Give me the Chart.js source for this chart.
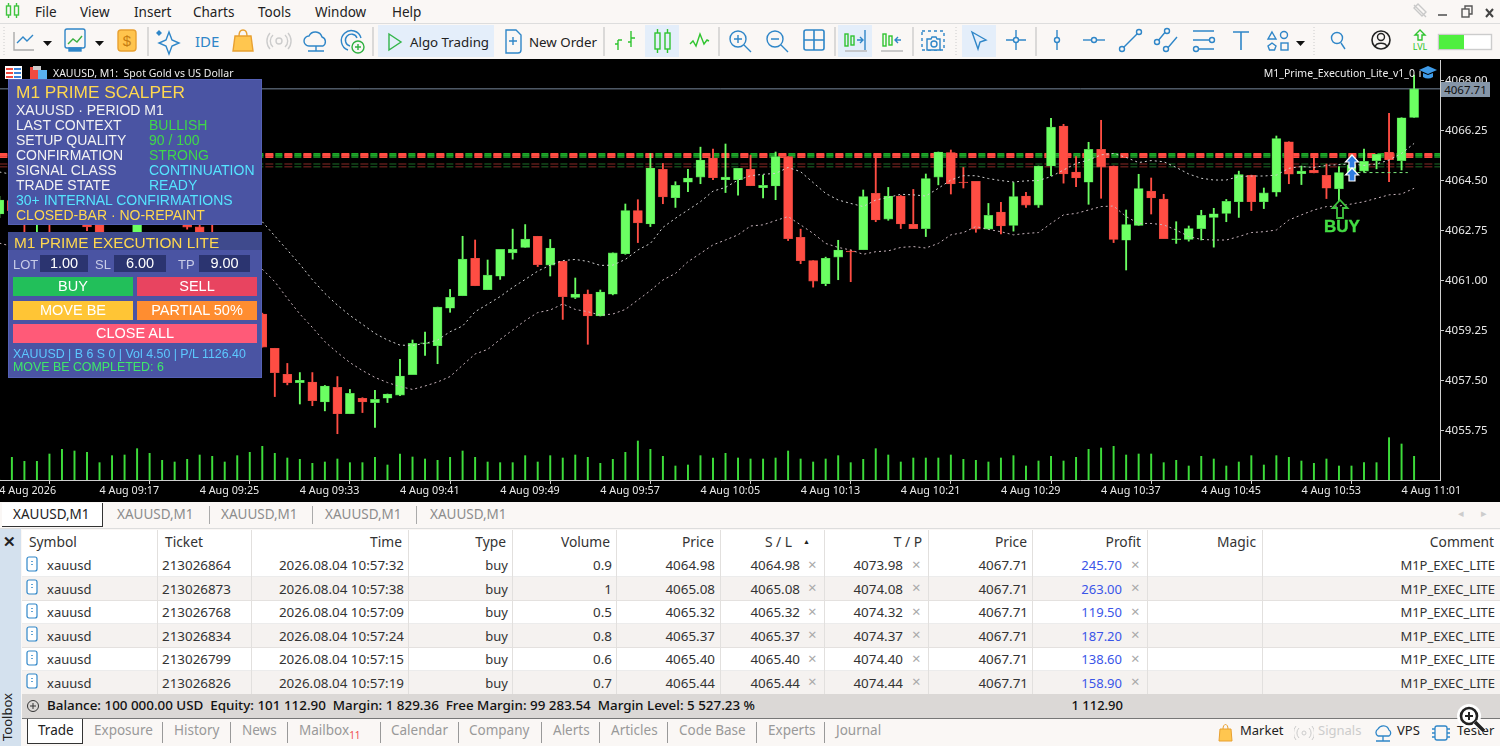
<!DOCTYPE html>
<html><head><meta charset="utf-8">
<script src="https://cdn.jsdelivr.net/npm/chart.js@4"></script>
<style>
html,body{margin:0;padding:0;width:1500px;height:746px;overflow:hidden;background:#faf7f5;font-family:"Noto Sans",sans-serif;color:#222}
.a{position:absolute;white-space:nowrap;line-height:1}
#menu span{position:absolute;top:3px;font-size:13.5px;color:#222}
#wrap{position:absolute;left:0;top:59px;width:1500px;height:443px;background:#000}
#wrap canvas{position:absolute;left:0;top:0}
.panel{position:absolute;left:8px;width:254px;background:#4a54a3;box-shadow:inset 0 0 0 1px #5561b5;font-family:"Liberation Sans",sans-serif}
.panel .a{font-size:14px;color:#f2f2f2}
.y{color:#ffd84f!important}.g{color:#3fd84a!important}.c{color:#55e4ff!important}
.inp{position:absolute;top:23px;height:17px;background:#2b3470;color:#fff;font-size:14.5px;line-height:17px;text-align:center}
.btn{position:absolute;color:#fff;font-size:14.5px;text-align:center;height:19px;line-height:19px}
#tabs{position:absolute;left:0;top:502px;width:1500px;height:27px;background:#faf7f5;border-bottom:1px solid #ddd;box-sizing:border-box}
#tabs span{position:absolute;top:3px;font-size:13.5px;color:#8c8c8c}
#tabs i{position:absolute;top:4px;height:18px;width:1px;background:#aaa}
#tbl{position:absolute;left:22px;top:530px;width:1478px;height:164px;overflow:hidden;background:#fff;font-size:13px;color:#333}
.row{position:absolute;left:0;width:1478px;height:23.5px}
.row .a{top:5.5px}.hdr .a{top:5px;font-size:13.8px}
.hdr{position:absolute;left:0;top:0;height:23px;width:1478px;background:#fff}
.vs{position:absolute;top:0;width:1px;height:164px;background:#e2e0de}
.row .x{color:#a8a8a8;font-size:15px;top:3px}
.n{font-size:13.4px}
#sum{position:absolute;left:22px;top:694px;width:1478px;height:24px;background:#dbd8d6;font-size:13.4px;color:#111}
#bot{position:absolute;left:22px;top:718px;width:1478px;height:28px;border-top:1px solid #777;box-sizing:border-box;background:#faf7f5;font-size:13.5px;color:#999}
#bot span{position:absolute;top:2px}
#bot i{position:absolute;top:3px;width:1px;height:21px;background:#999}
#tool{position:absolute;left:0;top:529px;width:21px;height:217px;background:#d4e1ee}
</style></head>
<body>
<div id="menu">
<svg class="a" style="left:5px;top:2px" width="16" height="18" viewBox="0 0 16 18" fill="none" stroke="#3fc43f" stroke-width="1.4"><rect x="1.5" y="4" width="4" height="9"/><rect x="9.5" y="4" width="4" height="9"/><path d="M3.5 1v3M3.5 13v3M11.500 1v3M11.500 13v3"/></svg>
<span style="left:35px">File</span><span style="left:80px">View</span><span style="left:134px">Insert</span><span style="left:193px">Charts</span><span style="left:258px">Tools</span><span style="left:315px">Window</span><span style="left:392px">Help</span>
</div>
<div class="a" style="left:0;top:23px;width:1500px;height:1px;background:#ddd"></div>
<div class="a" style="left:378px;top:25px;width:116px;height:32px;background:#e4eefa"></div>
<div class="a" style="left:645px;top:25px;width:34px;height:32px;background:#e4eefa"></div>
<div class="a" style="left:838px;top:25px;width:34px;height:32px;background:#e4eefa"></div>
<div class="a" style="left:962px;top:25px;width:34px;height:32px;background:#e4eefa"></div>
<svg class="a" style="left:0;top:0" width="1500" height="58" viewBox="0 0 1500 58" fill="none" stroke="#2f86c8" stroke-width="1.4">
<path d="M1414 5l12 12M1418 4l8 8-4 4-8-8z" stroke="#c9c9c9"/><path d="M1438 15h9" stroke="#777" stroke-width="2"/><rect x="1462" y="9" width="7" height="8" stroke="#555"/><path d="M1465 9V6h7v8h-3" stroke="#555"/><path d="M1486 9l7 8M1493 9l-7 8" stroke="#444" stroke-width="2"/>
<path d="M148 27v29M373 27v29M604 27v29M719 27v29M835 27v29M913 27v29M1036 27v29" stroke="#bbb" stroke-width="1"/>
<path d="M956 27v29M1314 27v29M4 27v29" stroke="#ccc" stroke-width="1" stroke-dasharray="1 2"/>
<path d="M14 32v18h20" stroke="#aaa"/><path d="M17 43l6-6 4 4 6-6"/><path d="M43 41h9l-4.500 5z" fill="#111" stroke="none"/>
<rect x="65" y="29" width="20" height="19" rx="2"/><path d="M68 44l5-5 4 3 5-6" stroke="#3cb043"/><rect x="69" y="48" width="12" height="3" fill="#2f86c8"/><path d="M95 41h9l-4.500 5z" fill="#111" stroke="none"/>
<rect x="118" y="30" width="18" height="21" rx="3" fill="#ffc44d" stroke="#e8a030"/><text x="127" y="46" text-anchor="middle" font-size="15" font-family="Liberation Sans" fill="#c67c12" stroke="none">$</text>
<path d="M169 32l3 8 7 3-7 3-3 8-3-8-7-3 7-3z"/><path d="M159 31l2 2-2 2-2-2z" fill="#2f86c8"/>
<text x="195" y="47" font-size="15" font-family="Noto Sans" fill="#2f86c8" stroke="none">IDE</text>
<path d="M235 36h16l2 15h-20z" fill="#ffc64f" stroke="#e8a030"/><path d="M239 36c0-8 8-8 8 0" stroke="#e8a030"/>
<circle cx="279" cy="41" r="3" stroke="#ccc"/><path d="M273 35a8 8 0 0 0 0 12M285 35a8 8 0 0 1 0 12M270 33a12 12 0 0 0 0 16M288 33a12 12 0 0 1 0 16" stroke="#ccc"/>
<path d="M309 46a5 5 0 0 1 0-10 7 7 0 0 1 13 1 5 5 0 0 1 1 9zM316 46v5M308 51h16"/>
<path d="M348 50a10 10 0 1 1 13-12M350 46a6 6 0 1 1 7-8"/><circle cx="358" cy="47" r="6" stroke="#30b040"/><path d="M355 47h6M358 44v6" stroke="#30b040"/>
<path d="M389 34l12 8-12 8z" stroke="#33b54a"/>
<path d="M506 30h10l5 5v15q0 3-3 3h-12z"/><path d="M513 37v8M509 41h8"/>
<g stroke="#2fc42f"><path d="M618 50V40M618 44h-3M618 40h4M631 47V31M631 38h4M631 42h-3"/><rect x="655" y="33" width="5" height="16"/><rect x="665" y="33" width="5" height="16"/><path d="M657.500 29v4M657.500 49v4M667.500 29v4M667.500 49v4"/><path d="M690 44l3-3 3 5 4-12 4 10 3-4 2 1"/></g>
<circle cx="738" cy="39" r="8"/><path d="M744 45l7 7M734 39h8M738 35v8"/>
<circle cx="775" cy="39" r="8"/><path d="M781 45l7 7M771 39h8"/>
<rect x="804" y="30" width="20" height="20" rx="2" stroke-width="1.6"/><path d="M814 30v20M804 40h20" stroke-width="1.6"/>
<g stroke="#2fc42f"><rect x="845" y="34" width="3" height="12"/><rect x="851" y="36" width="3" height="9"/><rect x="883" y="34" width="3" height="12"/><rect x="889" y="36" width="3" height="9"/></g>
<path d="M857 40h6M860 37l3 3-3 3M865 30v20M901 40h-6M898 37l-3 3 3 3"/><path d="M845 51h22M881 51h22" stroke="#bbb" stroke-width="1.5"/>
<path d="M922 31h22v19h-22z" stroke-dasharray="3 3"/><path d="M927 39h4l1-2h4l1 2h3v11h-13z" fill="#faf7f5"/><circle cx="934" cy="44" r="3"/>
<path d="M972 32l14 8-6 2-2 7z"/><path d="M1016 30v20M1006 40h20"/><circle cx="1016" cy="40" r="2.500" fill="#faf7f5"/>
<path d="M1057 30v20"/><circle cx="1057" cy="40" r="2.500" fill="#faf7f5"/><path d="M1083 40h22"/><circle cx="1094" cy="40" r="2.500" fill="#faf7f5"/>
<path d="M1122 49l17-17"/><circle cx="1122" cy="49" r="2.500" fill="#faf7f5"/><circle cx="1139" cy="32" r="2.500" fill="#faf7f5"/>
<path d="M1157 42l10-12M1166 50l11-13"/><circle cx="1157" cy="42" r="2.500" fill="#faf7f5"/><circle cx="1167" cy="31" r="2.500" fill="#faf7f5"/><circle cx="1166" cy="49" r="2.500" fill="#faf7f5"/>
<path d="M1193 31h21M1193 40h16M1193 49h21" stroke-width="1.6"/><circle cx="1212" cy="40" r="2.500" fill="#faf7f5"/><circle cx="1196" cy="49" r="2.500" fill="#faf7f5"/>
<path d="M1233 32h16M1241 32v18" stroke-width="1.6"/>
<path d="M1272 32l4 7h-8z"/><circle cx="1284" cy="35" r="3.500"/><path d="M1272 43l4 3-1.500 4h-5l-1.500-4z"/><rect x="1281" y="43" width="7" height="7"/><path d="M1296 41h9l-4.500 5z" fill="#111" stroke="none"/>
<circle cx="1337" cy="38" r="5.500"/><path d="M1341 43l4 6"/>
<circle cx="1381" cy="40" r="9" stroke="#222" stroke-width="1.6"/><circle cx="1381" cy="37" r="3.500" stroke="#222"/><path d="M1375 47c1-5 11-5 12 0" stroke="#222"/>
<path d="M1420 30l-5 5h3v5h4v-5h3z" stroke="#2fc42f"/>
<text x="1420" y="50" text-anchor="middle" font-size="9" font-family="Noto Sans" fill="#2fc42f" stroke="none">LVL</text>
<rect x="1438.500" y="34.500" width="53" height="15" fill="#fff" stroke="#ccc"/><rect x="1439" y="35" width="25" height="14" fill="#4fef3f" stroke="none"/>
<text x="410" y="47" font-size="13.300" font-family="Noto Sans" fill="#222" stroke="none">Algo Trading</text>
<text x="529" y="47" font-size="13.300" font-family="Noto Sans" fill="#222" stroke="none">New Order</text>
</svg>

<div id="wrap"><canvas id="c" width="1500" height="443"></canvas>
<svg class="a" style="left:5px;top:7px" width="44" height="14" viewBox="0 0 44 14"><rect x="0" y="0" width="17" height="13" fill="#fff"/><path d="M1 2h7v2H1zM1 6h7v2H1zM1 10h7v2H1z" fill="#f04a40"/><path d="M9 2h7v2H9zM9 6h7v2H9zM9 10h7v2H9z" fill="#3c84d8"/><rect x="25" y="1" width="8" height="13" fill="#f04a40"/><rect x="33" y="4" width="9" height="10" fill="#5ab0f0"/><rect x="28" y="0" width="8" height="4" fill="#ccc"/></svg>
<div class="a" style="left:53px;top:9px;color:#eee;font-size:10.5px;font-family:'Noto Sans'">XAUUSD, M1:&nbsp; Spot Gold vs US Dollar</div>
<div class="a" style="right:85px;top:9px;color:#eee;font-size:10.5px;font-family:'Noto Sans'">M1_Prime_Execution_Lite_v1_0</div>
<svg class="a" style="left:1419px;top:7px" width="18" height="14" viewBox="0 0 18 14"><path d="M0 4l9-4 9 4-9 4z" fill="#3f9be8"/><path d="M4 7v4q5 3 10 0V7l-5 2z" fill="#3f9be8"/><path d="M1 5v6" stroke="#fff"/></svg>
<div class="a" style="left:1441px;top:23px;width:49px;height:15px;background:#8696a8;color:#111;font-size:11.5px;line-height:15px;text-align:center;font-family:'Noto Sans'">4067.71</div>
<svg class="a" style="left:1330px;top:90px" width="34" height="72" viewBox="0 0 34 72" fill="none"><path d="M7 69V59H2.500L10 51l7.500 8H13v10z" stroke="#3fc43f" stroke-width="1.8"/><path d="M22 6l-6.500 7h3.500v6h6v-6h3.500z" fill="#2f7de0" stroke="#fff" stroke-width="1.200"/><path d="M22 19l-6.500 7h3.500v6h6v-6h3.500z" fill="#2f7de0" stroke="#fff" stroke-width="1.200"/></svg>
<div class="a" style="left:1324px;top:159px;color:#44dd44;font-size:17px;font-weight:700;-webkit-text-stroke:.4px #44dd44;font-family:'Liberation Sans'">BUY</div>
<div class="panel" style="top:20px;height:146px">
<div class="a y" style="left:8px;top:5px;font-size:17.3px">M1 PRIME SCALPER</div>
<div class="a" style="left:8px;top:24px">XAUUSD · PERIOD M1</div>
<div class="a" style="left:8px;top:39px">LAST CONTEXT</div><div class="a g" style="left:141px;top:39px">BULLISH</div>
<div class="a" style="left:8px;top:54px">SETUP QUALITY</div><div class="a g" style="left:141px;top:54px">90 / 100</div>
<div class="a" style="left:8px;top:69px">CONFIRMATION</div><div class="a g" style="left:141px;top:69px">STRONG</div>
<div class="a" style="left:8px;top:84px">SIGNAL CLASS</div><div class="a c" style="left:141px;top:84px">CONTINUATION</div>
<div class="a" style="left:8px;top:99px">TRADE STATE</div><div class="a c" style="left:141px;top:99px">READY</div>
<div class="a c" style="left:8px;top:114px">30+ INTERNAL CONFIRMATIONS</div>
<div class="a y" style="left:8px;top:129px">CLOSED-BAR · NO-REPAINT</div>
</div>
<div class="panel" style="top:173px;height:146px">
<div style="position:absolute;left:0;top:0;width:254px;height:18px;background:#3f4a8d"></div>
<div class="a y" style="left:6px;top:3px;font-size:15.4px">M1 PRIME EXECUTION LITE</div>
<div class="a" style="left:5px;top:26px;font-size:13px;color:#c8cce8">LOT</div><div class="inp" style="left:32px;width:48px">1.00</div>
<div class="a" style="left:87px;top:26px;font-size:13px;color:#c8cce8">SL</div><div class="inp" style="left:106px;width:52px">6.00</div>
<div class="a" style="left:170px;top:26px;font-size:13px;color:#c8cce8">TP</div><div class="inp" style="left:191px;width:51px">9.00</div>
<div class="btn" style="left:5px;top:45px;width:120px;background:#22bf5a">BUY</div>
<div class="btn" style="left:129px;top:45px;width:120px;background:#e84460">SELL</div>
<div class="btn" style="left:5px;top:69px;width:120px;background:#ffc535">MOVE BE</div>
<div class="btn" style="left:129px;top:69px;width:120px;background:#ff8d30">PARTIAL 50%</div>
<div class="btn" style="left:5px;top:92px;width:244px;background:#ff5a78;height:19px">CLOSE ALL</div>
<div class="a" style="left:5px;top:116px;font-size:12.4px;color:#5cc8ff">XAUUSD | B 6 S 0 | Vol 4.50 | P/L 1126.40</div>
<div class="a" style="left:5px;top:129px;font-size:12.4px;color:#3fe86a">MOVE BE COMPLETED: 6</div>
</div>
</div>

<div id="tabs">
<div class="a" style="left:2px;top:1px;width:101px;height:24px;background:#fff;border:1px solid #333;border-width:0 1px 1px 0;box-sizing:border-box"></div>
<span style="left:13px;color:#222">XAUUSD,M1</span><span style="left:117px">XAUUSD,M1</span><i style="left:209px"></i><span style="left:221px">XAUUSD,M1</span><i style="left:312px"></i><span style="left:325px">XAUUSD,M1</span><i style="left:416px"></i><span style="left:430px">XAUUSD,M1</span>
<span style="left:1458px;top:3px;font-size:11px;color:#ccc">◂</span><span style="left:1481px;top:3px;font-size:11px;color:#ccc">▸</span>
</div>
<div id="tool"><div class="a" style="left:3px;top:5px;font-size:15px;font-weight:bold;color:#222">✕</div>
<div class="a" style="left:1px;top:212px;transform-origin:0 0;transform:rotate(-90deg);font-size:13px;color:#222">Toolbox</div></div>
<div id="tbl"></div>
<div id="sum">
<svg class="a" style="left:4px;top:5px" width="14" height="14" fill="none" stroke="#333"><circle cx="7" cy="7" r="5.500"/><path d="M4 7h6M7 4v6"/></svg>
<div class="a" style="left:25px;top:5px;font-weight:500">Balance: 100 000.00 USD&nbsp; Equity: 101 112.90&nbsp; Margin: 1 829.36&nbsp; Free Margin: 99 283.54&nbsp; Margin Level: 5 527.23 %</div>
<div class="a" style="right:377px;top:5px;font-weight:500;font-size:13px">1 112.90</div>
</div>
<div id="bot">
<div class="a" style="left:5px;top:0;width:56px;height:25px;background:#fff;border:1px solid #333;border-width:0 1px 1px 1px;box-sizing:border-box"></div>
<span style="left:16px;color:#222">Trade</span><span style="left:72px">Exposure</span><i style="left:140px"></i><span style="left:152px">History</span><i style="left:208px"></i><span style="left:220px">News</span><i style="left:265px"></i><span style="left:277px">Mailbox<b style="color:#f05050;font-size:10px;font-weight:400;position:relative;top:4px">11</b></span><i style="left:358px"></i><span style="left:369px">Calendar</span><i style="left:436px"></i><span style="left:447px">Company</span><i style="left:519px"></i><span style="left:531px">Alerts</span><i style="left:577px"></i><span style="left:589px">Articles</span><i style="left:645px"></i><span style="left:657px">Code Base</span><i style="left:734px"></i><span style="left:746px">Experts</span><i style="left:802px"></i><span style="left:814px">Journal</span>
<svg class="a" style="left:1195px;top:4px" width="20" height="20" fill="none"><path d="M3 6h11l1 12H2z" fill="#ffc64f" stroke="#e8a030"/><path d="M6 6c0-6 5-6 5 0" stroke="#e8a030"/></svg>
<span style="left:1218px;color:#222;font-size:13px">Market</span>
<svg class="a" style="left:1272px;top:6px" width="20" height="16" fill="none" stroke="#ccc"><circle cx="10" cy="8" r="2"/><path d="M5 3a7 7 0 0 0 0 10M15 3a7 7 0 0 1 0 10M2 1a11 11 0 0 0 0 14M18 1a11 11 0 0 1 0 14"/></svg>
<span style="left:1296px;color:#ccc;font-size:13px">Signals</span>
<svg class="a" style="left:1351px;top:5px" width="20" height="20" fill="none" stroke="#2f86c8" stroke-width="1.300"><path d="M5 12a4 4 0 0 1 0-7 6 6 0 0 1 11 1 3.500 3.500 0 0 1 0 6zM10 12v5M3 17h14"/></svg>
<span style="left:1375px;color:#222;font-size:13px">VPS</span>
<svg class="a" style="left:1409px;top:4px" width="20" height="20" fill="none" stroke="#2f86c8" stroke-width="1.300"><rect x="4" y="3" width="12" height="14" rx="2"/><path d="M1 6h3M1 10h3M1 14h3M16 6h3M16 10h3M16 14h3"/></svg>
<span style="left:1435px;color:#222;font-size:13px">Tester</span>
</div>
<svg class="a" style="left:1456px;top:703px" width="32" height="32" fill="none"><circle cx="13" cy="13" r="12" fill="#fff"/><circle cx="13" cy="13" r="8" stroke="#222" stroke-width="2.600"/><path d="M9 13h8M13 9v8" stroke="#222" stroke-width="2"/><path d="M19 19l9 9" stroke="#fff" stroke-width="6"/><path d="M19 19l9 9" stroke="#222" stroke-width="3.500"/></svg>

<script>
const tickMinutes=[-1,7,15,23,31,39,47,55,63,71,79,87,95,103,111];
const tickLabels=["4 Aug 2026","4 Aug 09:17","4 Aug 09:25","4 Aug 09:33","4 Aug 09:41","4 Aug 09:49","4 Aug 09:57","4 Aug 10:05","4 Aug 10:13","4 Aug 10:21","4 Aug 10:29","4 Aug 10:37","4 Aug 10:45","4 Aug 10:53","4 Aug 11:01"];
const priceTicks=[4055.75,4057.50,4059.25,4061.00,4062.75,4064.50,4066.25,4068.00];
const lastPrice=4067.71;
const entryPrices=[4064.98,4065.08,4065.32,4065.37,4065.40,4065.44];
const opens=[4063.33,4063.80,4063.50,4063.05,4063.35,4063.05,4063.45,4063.15,4063.05,4062.25,4062.60,4062.25,4063.35,4063.02,4063.40,4063.20,4062.88,4062.15,4061.45,4060.75,4061.05,
4059.83,4058.63,4057.72,4057.43,4057.45,4056.75,4057.26,4056.34,4056.88,4056.73,4056.88,4056.99,4057.71,4058.80,4058.72,4060.03,4060.47,4061.78,4060.68,4061.15,
4061.97,4062.16,4062.55,4061.54,4061.67,4060.41,4060.53,4059.76,4060.52,4061.94,4063.45,4062.98,4064.89,4063.90,4064.44,4064.62,4065.29,4064.53,4064.53,4064.89,
4064.25,4064.31,4065.34,4062.51,4061.70,4060.89,4061.82,4062.03,4062.08,4064.05,4063.15,4063.96,4062.97,4062.82,4064.62,4065.48,4064.45,4064.47,4062.80,4063.40,
4062.93,4063.96,4063.64,4065.01,4066.41,4064.80,4064.44,4065.59,4065.01,4062.41,4062.93,4064.13,4063.85,4062.43,4062.44,4062.82,4063.21,4063.35,4063.76,4064.68,
4063.76,4064.09,4065.86,4064.74,4064.86,4064.68,4064.21,4064.70,4064.83,4065.20,4065.49,4065.20,4066.71];
const closes=[4063.82,4063.45,4063.15,4063.40,4063.00,4063.45,4063.10,4062.88,4062.20,4062.65,4062.20,4063.05,4063.00,4063.40,4063.05,4062.87,4062.10,4061.40,4060.80,4061.05,4059.95,
4058.67,4057.78,4057.43,4057.51,4056.80,4057.31,4056.34,4057.05,4056.75,4056.84,4057.03,4057.66,4058.80,4058.82,4060.07,4060.41,4061.75,4060.82,4061.19,4062.09,
4062.09,4062.45,4061.56,4062.14,4060.44,4060.53,4059.76,4060.60,4061.97,4063.45,4063.02,4064.94,4063.93,4064.33,4064.59,4065.22,4064.60,4064.62,4064.93,4064.32,
4064.33,4065.34,4062.47,4061.70,4060.98,4061.78,4062.07,4062.00,4063.94,4063.12,4063.96,4062.98,4062.82,4064.57,4065.50,4064.38,4064.43,4062.80,4063.28,4062.91,
4063.94,4063.64,4065.01,4066.37,4064.73,4064.59,4065.59,4064.97,4062.44,4062.96,4064.22,4063.89,4062.47,4062.46,4062.82,4063.28,4063.34,4063.77,4064.71,4063.76,
4064.07,4065.97,4064.72,4064.83,4064.77,4064.23,4064.78,4065.05,4065.17,4065.42,4065.23,4066.70,4067.71];
const highs=[4063.95,4063.95,4063.70,4063.55,4063.50,4063.60,4063.55,4063.30,4063.20,4062.68,4062.66,4063.25,4063.50,4063.55,4063.50,4063.30,4062.95,4063.00,4061.60,4061.20,4061.15,
4059.86,4058.63,4058.10,4057.78,4057.78,4057.33,4057.64,4057.19,4056.90,4057.16,4057.03,4058.24,4058.92,4059.20,4060.07,4060.69,4062.55,4062.42,4061.72,4062.09,
4062.80,4062.96,4062.55,4062.44,4061.67,4061.09,4060.67,4060.67,4061.97,4063.68,4063.83,4065.45,4065.10,4064.46,4064.89,4065.67,4065.60,4065.78,4064.93,4065.39,
4064.69,4065.50,4065.34,4062.80,4061.70,4061.82,4062.41,4062.07,4064.17,4065.45,4064.26,4063.98,4064.19,4064.73,4065.50,4065.57,4064.96,4064.47,4063.70,4063.74,
4064.43,4064.09,4065.01,4066.68,4066.47,4065.34,4065.84,4066.61,4065.01,4063.47,4064.72,4064.59,4064.02,4063.06,4062.91,4063.46,4063.53,4063.84,4064.83,4064.69,
4064.24,4066.06,4065.86,4065.01,4065.39,4065.08,4064.99,4065.39,4065.60,4065.42,4066.85,4066.70,4068.19];
const lows=[4063.20,4063.30,4062.60,4062.55,4062.65,4063.00,4063.02,4062.75,4062.05,4062.10,4062.05,4062.15,4062.96,4062.97,4062.98,4062.80,4061.95,4061.25,4060.65,4060.55,4059.80,
4058.67,4056.94,4057.35,4056.68,4056.62,4056.44,4055.64,4056.34,4056.38,4055.86,4056.73,4056.97,4057.71,4058.38,4058.09,4059.89,4060.47,4060.82,4060.68,4061.04,
4061.75,4062.16,4061.49,4061.16,4059.64,4060.37,4058.77,4059.76,4060.50,4061.92,4062.33,4062.89,4063.69,4063.56,4064.11,4064.39,4064.53,4064.08,4063.99,4064.32,
4063.89,4063.83,4062.40,4061.59,4060.77,4060.82,4061.03,4060.96,4062.08,4063.06,4063.11,4062.82,4062.82,4062.54,4064.35,4064.03,4064.24,4062.69,4062.80,4062.63,
4062.73,4063.56,4063.56,4064.67,4064.41,4064.29,4063.67,4063.88,4062.33,4061.37,4062.93,4063.33,4062.47,4062.30,4062.38,4062.42,4062.17,4063.06,4063.21,4063.45,
4063.52,4063.95,4064.39,4064.36,4064.77,4063.87,4063.80,4064.70,4064.80,4064.91,4064.46,4064.87,4066.71];
const volumes=[0,68,56,56,78,92,87,83,52,73,75,94,80,59,54,62,75,71,54,73,83,101,80,66,62,50,54,63,52,52,68,45,78,69,63,59,68,87,68,54,52,52,73,54,73,66,75,68,50,62,83,117,92,71,42,45,73,66,80,66,
63,63,66,87,63,54,63,73,52,62,94,75,54,66,66,66,75,62,59,54,66,73,42,57,71,57,68,92,96,101,75,78,78,52,59,42,71,63,42,54,73,45,73,68,57,50,63,42,42,52,52,127,108,71];
const hidden=Array(19).fill(null); // behind the two panels
const upperBand=[4064.80,4064.72,...hidden,4063.06,4062.56,4062.07,4061.57,4061.03,4060.55,4060.14,4059.78,4059.47,4059.15,4058.92,4058.74,4058.73,4058.80,4058.92,4059.21,4059.41,4059.91,4060.17,4060.44,4060.76,4061.04,4061.33,4061.54,4061.70,4061.74,4061.67,4061.53,4061.54,4061.74,4062.07,4062.30,
4062.86,4063.18,4063.47,4063.76,4064.13,4064.26,4064.52,4064.67,4064.72,4064.75,4064.96,4064.81,4064.43,4064.05,4063.82,4063.70,4063.59,4063.82,4063.91,4064.02,4064.00,4063.96,4064.23,4064.52,4064.67,4064.67,4064.57,4064.50,4064.45,4064.49,4064.50,
4064.64,4064.87,4065.10,4065.22,4065.40,4065.45,4065.31,4065.13,4065.20,4065.16,4064.96,4064.73,4064.58,4064.52,4064.52,4064.64,4064.66,4064.66,4064.69,4064.93,4064.99,4064.96,4065.03,4065.06,4065.08,4065.03,4065.08,4065.22,4065.45,4065.80];
const lowerBand=[4062.31,4062.20,...hidden,4061.40,4060.96,4060.38,4059.83,4059.36,4058.86,4058.48,4058.13,4057.85,4057.61,4057.43,4057.29,4057.19,4057.31,4057.45,4057.64,4058.04,4058.43,4058.59,4058.94,4059.27,4059.60,4059.88,4059.97,4060.18,4059.99,4059.91,4059.79,4059.83,4059.99,4060.32,4060.65,
4061.02,4061.25,4061.66,4061.95,4062.25,4062.42,4062.60,4062.91,4062.95,4063.10,4063.24,4062.95,4062.65,4062.30,4062.16,4062.07,4061.92,4062.01,4062.04,4062.16,4062.19,4062.14,4062.30,4062.60,4062.68,4062.89,4062.79,4062.71,4062.60,4062.65,4062.68,
4063.00,4063.30,4063.35,4063.47,4063.59,4063.61,4063.24,4063.00,4063.00,4062.95,4062.77,4062.54,4062.44,4062.42,4062.42,4062.54,4062.68,4062.71,4062.77,4063.12,4063.30,4063.47,4063.59,4063.61,4063.68,4063.76,4063.88,4064.00,4064.03,4064.23];
// open-position table
const symbols=["xauusd","xauusd","xauusd","xauusd","xauusd","xauusd"];
const tickets=["213026864","213026873","213026768","213026834","213026799","213026826"];
const times=["2026.08.04 10:57:32","2026.08.04 10:57:38","2026.08.04 10:57:09","2026.08.04 10:57:24","2026.08.04 10:57:15","2026.08.04 10:57:19"];
const lots=["0.9","1","0.5","0.8","0.6","0.7"];
const priceOpen=["4064.98","4065.08","4065.32","4065.37","4065.40","4065.44"];
const stops=["4064.98","4065.08","4065.32","4065.37","4065.40","4065.44"];
const takes=["4073.98","4074.08","4074.32","4074.37","4074.40","4074.44"];
const profits=["245.70","263.00","119.50","187.20","138.60","158.90"];

const GREEN='#6bff62',RED='#ff4d43',GREEN_D='#49c74a',RED_D='#d8443c';
const xs=opens.map((_,i)=>i-1);
const isUp=i=>closes[i]>=opens[i];
const bodyColors=xs.map((_,i)=>isUp(i)?GREEN:RED);
const edgeColors=xs.map((_,i)=>isUp(i)?GREEN_D:RED_D);
const levelSets=[];
entryPrices.forEach((p,k)=>{
  const thin=k<2, d0=xs[0], d1=xs[xs.length-1]+4;
  levelSets.push({type:'line',data:[{x:d0,y:p},{x:d1,y:p}],borderColor:thin?'#8a2a26':RED,borderWidth:thin?1:1.6,borderDash:[8,11],pointRadius:0,order:9,yAxisID:'y',xAxisID:'x'});
  levelSets.push({type:'line',data:[{x:d0,y:p},{x:d1,y:p}],borderColor:thin?'#1f6e28':'#1fa82a',borderWidth:thin?1:1.4,borderDash:[7,12],borderDashOffset:9,pointRadius:0,order:10,yAxisID:'y',xAxisID:'x'});
});
const xp=(arr)=>arr.map((v,i)=>({x:xs[i],y:v}));
const noPad=a=>{a.paddingTop=0;a.paddingBottom=0;a.paddingLeft=0;a.paddingRight=0};
new Chart(document.getElementById('c'),{
 type:'bar',
 data:{datasets:[
  {type:'bar',label:'volume',data:xp(volumes),yAxisID:'v',xAxisID:'x',backgroundColor:'#3ddc3a',barThickness:1.3,grouped:false,order:8},
  {type:'line',label:'last',data:[{x:xs[0],y:lastPrice},{x:xs[xs.length-1]+4,y:lastPrice}],borderColor:'#76879a',borderWidth:1,pointRadius:0,order:7,yAxisID:'y',xAxisID:'x'},
  ...levelSets,
  {type:'bar',label:'wick',data:xp(highs.map((h,i)=>[lows[i],h])),yAxisID:'y',xAxisID:'x',backgroundColor:bodyColors,barThickness:1.2,grouped:false,order:5},
  {type:'bar',label:'body',data:xp(opens.map((o,i)=>[o,closes[i]])),yAxisID:'y',xAxisID:'x',backgroundColor:bodyColors,borderColor:edgeColors,borderWidth:0.6,borderSkipped:false,barThickness:9,grouped:false,order:4},
  {type:'line',label:'upper',data:xp(upperBand),borderColor:'#cfcfcf',borderWidth:1,borderDash:[2,3],pointRadius:0,spanGaps:false,order:3,yAxisID:'y',xAxisID:'x'},
  {type:'line',label:'lower',data:xp(lowerBand),borderColor:'#c8b4bc',borderWidth:1,borderDash:[2,3],pointRadius:0,spanGaps:false,order:3,yAxisID:'y',xAxisID:'x'},
  {type:'line',label:'entry',data:[{x:107,y:4064.78},{x:111.5,y:4064.78}],borderColor:'#7be87b',borderWidth:1,borderDash:[3,3],pointRadius:0,order:3,yAxisID:'y',xAxisID:'x'}
 ]},
 options:{
  responsive:false,animation:false,devicePixelRatio:1,
  layout:{autoPadding:false,padding:{top:1,bottom:0,left:0,right:0}},
  plugins:{legend:{display:false},tooltip:{enabled:false}},
  scales:{
   x:{type:'linear',min:-0.95,max:114.07,offset:false,
      afterBuildTicks(a){a.ticks=tickMinutes.map(v=>({value:v}))},
      afterFit(a){a.height=22;noPad(a)},
      grid:{drawOnChartArea:false,drawTicks:true,tickLength:4,tickColor:'#cfcfcf'},
      border:{color:'#cfcfcf',width:1},
      ticks:{autoSkip:false,maxRotation:0,minRotation:0,align:'start',padding:0,color:'#eaeaea',font:{family:'Noto Sans',size:10.8},
        callback(v){const k=tickMinutes.indexOf(v);return k<0?'':tickLabels[k]}}},
   y:{position:'right',min:4054.02,max:4068.72,
      afterBuildTicks(a){a.ticks=priceTicks.map(v=>({value:v}))},
      afterFit(a){a.width=60;noPad(a)},
      grid:{drawOnChartArea:false,tickLength:4,tickColor:'#cfcfcf'},
      border:{color:'#cfcfcf',width:1},
      ticks:{padding:1,color:'#eaeaea',font:{family:'Noto Sans',size:11.500},callback(v){return v.toFixed(2)}}},
   v:{display:false,min:0,max:1260,afterFit:noPad}
  }
 }
});

// table
const cols=[157,251,408,512,616,720,824,928,1032,1147,1262];
const tbl=document.getElementById('tbl');
const place=(parent,txt,px,right,cls,color)=>{const d=document.createElement('div');d.className='a'+(cls?' '+cls:'');d.textContent=txt;
  d.style[right?'right':'left']=(right?1478-(px-22):px-22)+'px';if(color)d.style.color=color;parent.appendChild(d);return d};
const hdr=document.createElement('div');hdr.className='hdr';tbl.appendChild(hdr);
[["Symbol",29,0],["Ticket",165,0],["Time",402,1],["Type",506,1],["Volume",610,1],["Price",714,1],["S / L",792,1],["T / P",922,1],["Price",1027,1],["Profit",1141,1],["Magic",1256,1],["Comment",1494,1]].forEach(h=>place(hdr,h[0],h[1],h[2]));
const arrow=place(hdr,'▲',803,0);arrow.style.fontSize='7px';arrow.style.top='8px';arrow.style.color='#222';
symbols.forEach((s,i)=>{
  const r=document.createElement('div');r.className='row';r.style.top=(23.5*(i+1))+'px';if(i%2)r.style.background='#f5f2f0';
  r.style.borderBottom=i%2?'1px solid #e4e1df':'1px solid #ececec';r.style.boxSizing='border-box';tbl.appendChild(r);
  const ic=document.createElementNS('http://www.w3.org/2000/svg','svg');ic.setAttribute('width','12');ic.setAttribute('height','16');ic.setAttribute('class','a');ic.setAttribute('style','left:4px;top:2px');
  ic.innerHTML='<rect x="1" y="1" width="10" height="14" rx="2" fill="#fff" stroke="#2f86c8" stroke-width="1.200"/><path d="M6 5v1M6 8v1" stroke="#2f86c8" stroke-width="1.500"/>';r.appendChild(ic);
  place(r,s,47,0);place(r,tickets[i],162,0,'n');place(r,times[i],404,1,'n');place(r,'buy',508,1);place(r,lots[i],612,1,'n');place(r,priceOpen[i],715,1,'n');
  place(r,stops[i],800,1,'n');place(r,'×',808,0,'x');
  place(r,takes[i],903,1,'n');place(r,'×',912,0,'x');
  place(r,'4067.71',1028,1,'n');place(r,profits[i],1122,1,'','#3a55e8');place(r,'×',1131,0,'x');
  place(r,'M1P_EXEC_LITE',1495,1);
});
cols.forEach(c=>{const v=document.createElement('div');v.className='vs';v.style.left=(c-22)+'px';tbl.appendChild(v)});
</script>
</body></html>
